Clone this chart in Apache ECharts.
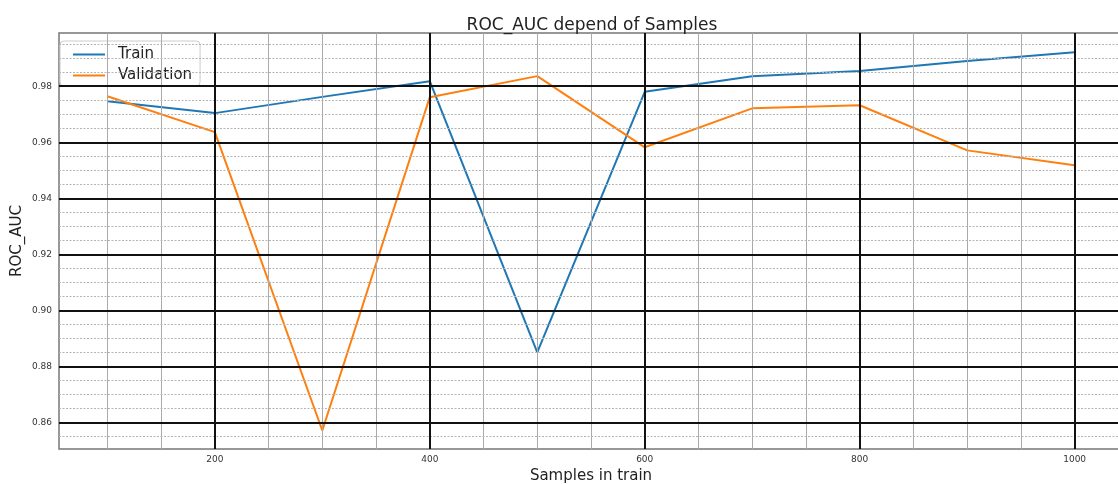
<!DOCTYPE html>
<html>
<head>
<meta charset="utf-8">
<script src="https://cdn.jsdelivr.net/npm/echarts@6/dist/echarts.min.js"></script>
<style>
  html, body { margin: 0; padding: 0; background: #fff; }
  #chart { width: 1118px; height: 484px; }
</style>
</head>
<body>
<div id="chart"></div>
<script>
// data
var samples = [100, 200, 300, 400, 500, 600, 700, 800, 900, 1000];
var trainAuc = [0.9746, 0.9704, 0.9762, 0.9818, 0.8850, 0.9780, 0.9836, 0.9854, 0.9890, 0.9921];
var valAuc = [0.9764, 0.9636, 0.8571, 0.9761, 0.9836, 0.9582, 0.9721, 0.9732, 0.9571, 0.9518];

// tick labels / grid positions
var xMajor = [200, 400, 600, 800, 1000];
var yMajor = [0.86, 0.88, 0.90, 0.92, 0.94, 0.96, 0.98];
var xMinor = [100, 150, 250, 300, 350, 450, 500, 550, 650, 700, 750, 850, 900, 950];
var yMinor = [0.855, 0.865, 0.87, 0.875, 0.885, 0.89, 0.895, 0.905, 0.91, 0.915,
              0.925, 0.93, 0.935, 0.945, 0.95, 0.955, 0.965, 0.97, 0.975,
              0.985, 0.99, 0.995];
var xRange = [55, 1045];
var yRange = [0.8505, 0.999];

var blue = '#1f77b4', orange = '#ff7f0e';
var font = 'DejaVu Sans';

function pairs(xs, ys) {
  return xs.map(function (v, i) { return [v, ys[i]]; });
}
// full-width / full-height segments through the axes' own scales
function vLines(values, style) {
  return values.map(function (v) {
    return [{ coord: [v, yRange[0]], lineStyle: style }, { coord: [v, yRange[1]] }];
  });
}
function hLines(values, style) {
  return values.map(function (v) {
    return [{ coord: [xRange[0], v], lineStyle: style }, { coord: [xRange[1], v] }];
  });
}
function gridSeries(name, lines) {
  return {
    name: name, type: 'line', data: [], z: 1, silent: true,
    markLine: { silent: true, symbol: 'none', label: { show: false }, animation: false, data: lines }
  };
}

var minorV = { color: '#aaa', width: 1, type: 'solid' };
var minorH = { color: '#b4b4b4', width: 1, type: [2, 1.5] };
var major = { color: '#111', width: 2, type: 'solid' };

var myChart = echarts.init(document.getElementById('chart'));
var option = {
  animation: false,
  backgroundColor: '#fff',
  textStyle: { fontFamily: font },
  title: {
    text: 'ROC_AUC depend of Samples',
    left: 587,
    textAlign: 'center',
    top: 12,
    textStyle: { fontFamily: font, fontSize: 17, fontWeight: 'normal', color: '#222' }
  },
  legend: {
    data: ['Train', 'Validation'],
    orient: 'vertical',
    left: 60,
    top: 41,
    padding: [6, 8, 3, 12],
    itemWidth: 32,
    itemHeight: 15,
    itemGap: 6,
    itemStyle: { opacity: 0 },
    backgroundColor: '#fff',
    borderColor: '#ccc',
    borderWidth: 1,
    borderRadius: 4,
    textStyle: { fontFamily: font, fontSize: 15, color: '#222', padding: [0, 0, 0, 8] }
  },
  grid: {
    left: 59, top: 33, width: 1064, height: 416,
    outerBoundsMode: 'none',
    containLabel: false,
    show: true, borderColor: '#777', borderWidth: 1.5, backgroundColor: '#fff'
  },
  xAxis: {
    type: 'value',
    min: xRange[0], max: xRange[1], interval: 5,
    name: 'Samples in train',
    nameLocation: 'middle',
    nameGap: 20,
    nameMoveOverlap: false,
    nameTextStyle: { fontFamily: font, fontSize: 15, color: '#222' },
    axisLine: { show: false },
    axisTick: { show: false },
    splitLine: { show: false },
    axisLabel: {
      fontSize: 9, color: '#333', margin: 6,
      formatter: function (v) { return xMajor.indexOf(Math.round(v)) >= 0 ? String(Math.round(v)) : ''; }
    }
  },
  yAxis: {
    type: 'value',
    min: yRange[0], max: yRange[1], interval: 0.0005,
    name: 'ROC_AUC',
    nameLocation: 'middle',
    nameGap: 34,
    nameMoveOverlap: false,
    nameTextStyle: { fontFamily: font, fontSize: 15, color: '#222' },
    axisLine: { show: false },
    axisTick: { show: false },
    splitLine: { show: false },
    axisLabel: {
      fontSize: 9, color: '#333', margin: 7,
      formatter: function (v) {
        var m = Math.round(v * 10000);
        return m % 200 === 0 ? (m / 10000).toFixed(2) : '';
      }
    }
  },
  series: [
    gridSeries('minorX', vLines(xMinor, minorV)),
    gridSeries('minorY', hLines(yMinor, minorH)),
    gridSeries('majorX', vLines(xMajor, major)),
    gridSeries('majorY', hLines(yMajor, major)),
    {
      name: 'Train',
      type: 'line',
      z: 3,
      symbol: 'none',
      color: blue,
      lineStyle: { color: blue, width: 2 },
      data: pairs(samples, trainAuc)
    },
    {
      name: 'Validation',
      type: 'line',
      z: 3,
      symbol: 'none',
      color: orange,
      lineStyle: { color: orange, width: 2 },
      data: pairs(samples, valAuc)
    }
  ]
};
myChart.setOption(option);
</script>
</body>
</html>
